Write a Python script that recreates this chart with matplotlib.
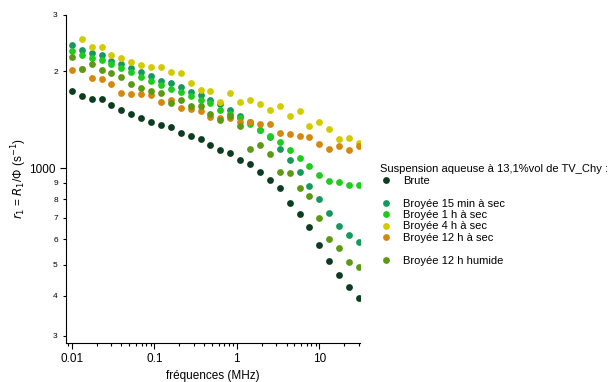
import matplotlib
matplotlib.use("Agg")
import numpy as np
import matplotlib.pyplot as plt
from matplotlib.lines import Line2D
from matplotlib.ticker import FixedLocator, FixedFormatter, LogLocator, NullFormatter

plt.rcParams['font.family'] = ['Liberation Sans', 'DejaVu Sans']

# frequencies (MHz), same grid for all samples
freq = [0.0100, 0.0132, 0.0174, 0.0229, 0.0302, 0.0398, 0.0525, 0.0692, 0.0912, 0.120,
        0.158, 0.209, 0.275, 0.363, 0.479, 0.631, 0.832, 1.10, 1.45, 1.91,
        2.51, 3.31, 4.37, 5.75, 7.59, 10.0, 13.2, 17.4, 22.9, 30.2]

brute = [1741, 1671, 1641, 1641, 1567, 1519, 1469, 1427, 1387, 1364,
         1338, 1285, 1258, 1228, 1184, 1135, 1116, 1056, 1026, 974,
         918, 866, 780, 719, 653, 577, 514, 465, 425, 395]
b15min = [2422, 2336, 2282, 2243, 2160, 2113, 2053, 1986, 1929, 1871,
          1840, 1783, 1725, 1683, 1633, 1586, 1512, 1455, 1394, 1316,
          1249, 1148, 1056, 974, 881, 801, 722, 658, 620, 587]
b1h = [2320, 2254, 2195, 2164, 2109, 2053, 1995, 1920, 1871, 1818,
       1763, 1729, 1671, 1629, 1594, 1512, 1473, 1431, 1367, 1316,
       1261, 1202, 1135, 1074, 1017, 953, 913, 905, 885, 885]
b4h = [np.nan, 2515, 2375, 2375, 2254, 2206, 2133, 2098, 2058, 2058,
       1991, 1971, 1844, 1745, 1741, 1609, 1708, 1609, 1633, 1578,
       1519, 1556, 1455, 1501, 1348, 1387, 1319, 1228, 1240, 1196]
b12h = [2020, 2040, 1911, 1893, 1830, 1717, 1701, 1701, 1692, 1609,
        1627, 1538, 1527, 1508, 1445, 1434, 1437, 1394, 1387, 1371,
        1371, 1285, 1276, 1261, 1249, 1188, 1146, 1168, 1138, 1174]
b12h_hum = [2211, 2034, 2113, 2020, 1971, 1924, 1830, 1770, 1741, 1708,
            1589, 1633, 1564, 1564, 1476, 1411, 1452, 1348, 1148, 1176,
            1106, 972, 968, 866, 816, 700, 602, 565, 511, 491]

series = [
    ("Brute", brute, "#0d3d20"),
    ("Broyée 15 min à sec", b15min, "#16995e"),
    ("Broyée 1 h à sec", b1h, "#1ecc1e"),
    ("Broyée 4 h à sec", b4h, "#d2cb00"),
    ("Broyée 12 h à sec", b12h, "#d4880c"),
    ("Broyée 12 h humide", b12h_hum, "#5c9a14"),
]

xticks = [0.01, 0.1, 1, 10]
xticklabels = ["0.01", "0.1", "1", "10"]
ymajor = [1000]
ymajor_labels = ["1000"]
yminor = [300, 400, 500, 600, 700, 800, 900, 2000, 3000]
yminor_labels = ["3", "4", "5", "6", "7", "8", "9", "2", "3"]

fig = plt.figure(figsize=(6.11, 3.82), dpi=100)
ax = fig.add_axes([0.108, 0.102, 0.481, 0.859])

for name, vals, col in series:
    ax.plot(freq, vals, 'o', color=col, markersize=4.9, markeredgewidth=0)

ax.set_xscale('log')
ax.set_yscale('log')
ax.set_xlim(0.0085, 31)
ax.set_ylim(285, 3000)

ax.xaxis.set_major_locator(FixedLocator(xticks))
ax.xaxis.set_major_formatter(FixedFormatter(xticklabels))
ax.xaxis.set_minor_locator(LogLocator(base=10, subs=np.arange(2, 10)))
ax.xaxis.set_minor_formatter(NullFormatter())

ax.yaxis.set_major_locator(FixedLocator(ymajor))
ax.yaxis.set_major_formatter(FixedFormatter(ymajor_labels))
ax.yaxis.set_minor_locator(FixedLocator(yminor))
ax.yaxis.set_minor_formatter(FixedFormatter(yminor_labels))

ax.tick_params(which='major', direction='out', length=4, width=0.8, labelsize=8.5)
ax.tick_params(which='minor', direction='out', length=2.5, width=0.8)
ax.tick_params(axis='y', which='minor', labelsize=6)

for s in ['top', 'right']:
    ax.spines[s].set_visible(False)
ax.spines['left'].set_linewidth(0.8)
ax.spines['bottom'].set_linewidth(0.8)

ax.set_xlabel("fréquences (MHz)", fontsize=8.5, labelpad=3)
ax.set_ylabel(r"$r_1$ = $R_1$/Φ (s$^{-1}$)", fontsize=8.5)
ax.yaxis.set_label_coords(-0.125, 0.5)

# legend with blank rows as in the original
handles = []
labels = []
for i, (name, vals, col) in enumerate(series):
    if i in (1, 5):
        handles.append(Line2D([], [], linestyle='none'))
        labels.append(" ")
    handles.append(Line2D([], [], linestyle='none', marker='o', color=col,
                          markersize=4.9, markeredgewidth=0))
    labels.append(name)

leg = fig.legend(handles, labels, loc='upper left', bbox_to_anchor=(0.622, 0.57),
                 frameon=False, fontsize=8, title="Suspension aqueuse à 13,1%vol de TV_Chy :",
                 title_fontsize=8, alignment='left', labelspacing=0.13,
                 handlelength=1.0, handletextpad=1.1, borderpad=0, borderaxespad=0)

fig.savefig("out.png", dpi=100)
